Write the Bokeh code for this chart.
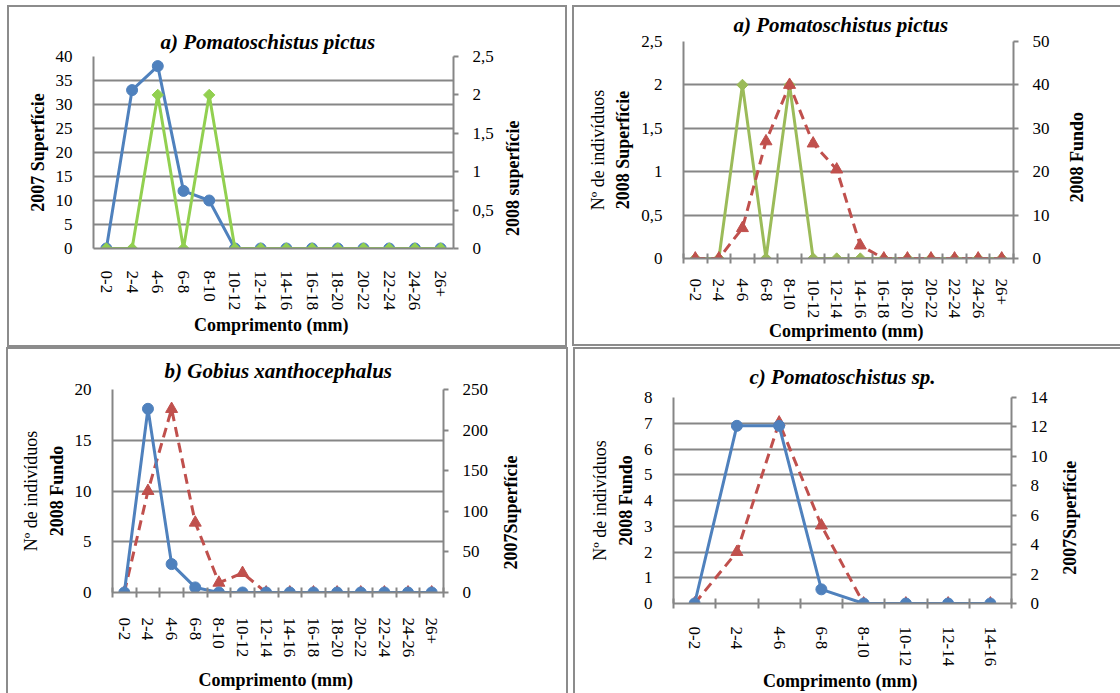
import math
import numpy as np
from bokeh.plotting import figure
from bokeh.models import (Range1d, LinearAxis, FixedTicker, CustomJSTickFormatter,
                          ColumnDataSource)
from bokeh.layouts import row, column
from bokeh.embed import file_html
from bokeh.resources import INLINE

FONT = "Liberation Serif"
GRID = "#868686"
FRAME = "#8c8c8c"
BLUE = "#4F81BD"
RED = "#C0504D"
GREEN1 = "#92D050"
GREEN2 = "#9BBB59"
TICK_FS = "17px"
LABEL_FS = "18px"
TITLE_FS = "21px"

# ---------------- data ----------------
cats14 = ["0-2", "2-4", "4-6", "6-8", "8-10", "10-12", "12-14", "14-16",
          "16-18", "18-20", "20-22", "22-24", "24-26", "26+"]
cats8 = ["0-2", "2-4", "4-6", "6-8", "8-10", "10-12", "12-14", "14-16"]

# Panel a) top-left
a1_sup2007 = [0, 33, 38, 12, 10, 0, 0, 0, 0, 0, 0, 0, 0, 0]
a1_sup2008 = [0, 0, 2, 0, 2, 0, 0, 0, 0, 0, 0, 0, 0, 0]
a1_left_ticks = [0, 5, 10, 15, 20, 25, 30, 35, 40]
a1_right_ticks = [0, 0.5, 1, 1.5, 2, 2.5]

# Panel a) top-right
a2_sup2008 = [0, 0, 2, 0, 2, 0, 0, 0, 0, 0, 0, 0, 0, 0]
a2_fundo2008 = [0, 0, 7, 27, 40, 26.5, 20.5, 3, 0, 0, 0, 0, 0, 0]
a2_left_ticks = [0, 0.5, 1, 1.5, 2, 2.5]
a2_right_ticks = [0, 10, 20, 30, 40, 50]

# Panel b) bottom-left
b_fundo2008 = [0, 18.1, 2.8, 0.5, 0, 0, 0, 0, 0, 0, 0, 0, 0, 0]
b_sup2007 = [0, 125, 226, 86, 12, 24, 0, 0, 0, 0, 0, 0, 0, 0]
b_left_ticks = [0, 5, 10, 15, 20]
b_right_ticks = [0, 50, 100, 150, 200, 250]

# Panel c) bottom-right
c_fundo2008 = [0, 6.9, 6.9, 0.55, 0, 0, 0, 0]
c_sup2007 = [0, 3.5, 12.3, 5.3, 0, 0, 0, 0]
c_left_ticks = [0, 1, 2, 3, 4, 5, 6, 7, 8]
c_right_ticks = [0, 2, 4, 6, 8, 10, 12, 14]

COMMA = "return tick.toString().replace('.', ',');"


def style_label(ax, text, bold=True):
    ax.axis_label = text
    ax.axis_label_text_font = FONT
    ax.axis_label_text_font_style = "bold" if bold else "normal"
    ax.axis_label_text_font_size = LABEL_FS
    ax.axis_label_text_color = "black"


def make_panel(title, cats, left_ticks, right_ticks, series, left_label, right_label,
               extra_label, W, H, fl, ft, fw, fh, margin, sides,
               right_title_center, right_title_len, right_title_standoff,
               xticks=True, title_offset=0, title_standoff=0,
               x_standoff=20, x_label_standoff=2):
    n = len(cats)
    ymin, ymax = left_ticks[0], left_ticks[-1]
    p = figure(width=W, height=H, x_range=Range1d(0, n),
               y_range=Range1d(ymin, ymax),
               output_backend="svg", toolbar_location=None,
               min_border_left=fl, min_border_right=W - fl - fw,
               min_border_top=ft, min_border_bottom=H - ft - fh)
    p.extra_y_ranges = {"r": Range1d(right_ticks[0], right_ticks[-1])}
    p.border_fill_alpha = 0
    p.background_fill_color = "white"
    p.outline_line_color = None
    shadows = {"left": "inset 2px 0 0 0 " + FRAME, "top": "inset 0 2px 0 0 " + FRAME,
               "right": "inset -2px 0 0 0 " + FRAME, "bottom": "inset 0 -2px 0 0 " + FRAME}
    p.styles = {"background-color": "white",
                "box-shadow": ", ".join(shadows[s] for s in sides)}
    p.margin = margin

    p.title.text = title
    p.title.align = "left"
    p.title.text_font = FONT
    p.title.text_font_style = "bold italic"
    p.title.text_font_size = TITLE_FS
    p.title.text_color = "black"
    p.title.offset = title_offset
    p.title.standoff = title_standoff

    # x axis
    xa = p.xaxis[0]
    xa.ticker = FixedTicker(ticks=list(np.arange(n) + 0.5),
                            minor_ticks=list(np.arange(n + 1)))
    xa.formatter = CustomJSTickFormatter(args=dict(cats=cats),
                                         code="return cats[Math.floor(tick)];")
    xa.major_label_orientation = -math.pi / 2
    xa.major_tick_in = 0
    xa.major_tick_out = 0
    xa.minor_tick_in = 5 if xticks else 0
    xa.minor_tick_out = 5 if xticks else 0
    xa.minor_tick_line_color = GRID
    xa.minor_tick_line_width = 2
    xa.axis_line_color = GRID
    xa.axis_line_width = 2
    xa.major_label_standoff = x_standoff
    xa.major_label_text_font = FONT
    xa.major_label_text_font_size = TICK_FS
    xa.major_label_text_color = "black"
    style_label(xa, "Comprimento  (mm)")
    xa.axis_label_standoff = x_label_standoff
    p.xgrid.visible = False

    # left axis
    ya = p.yaxis[0]
    lt = FixedTicker(ticks=left_ticks)
    ya.ticker = lt
    ya.formatter = CustomJSTickFormatter(code=COMMA)
    ya.major_tick_in = 0
    ya.major_tick_out = 0
    ya.minor_tick_in = 0
    ya.minor_tick_out = 0
    ya.axis_line_color = GRID
    ya.axis_line_width = 2
    ya.major_label_standoff = 21
    ya.major_label_text_font = FONT
    ya.major_label_text_font_size = TICK_FS
    ya.major_label_text_color = "black"
    style_label(ya, left_label)
    ya.axis_label_standoff = 5
    p.ygrid.ticker = lt
    p.ygrid.grid_line_color = GRID
    p.ygrid.grid_line_width = 2

    # right axis (ticks + numbers)
    ra = LinearAxis(y_range_name="r", ticker=FixedTicker(ticks=right_ticks),
                    formatter=CustomJSTickFormatter(code=COMMA))
    ra.major_tick_in = 0
    ra.major_tick_out = 5
    ra.major_tick_line_color = GRID
    ra.major_tick_line_width = 2
    ra.minor_tick_in = 0
    ra.minor_tick_out = 0
    ra.axis_line_color = GRID
    ra.axis_line_width = 2
    ra.major_label_standoff = 14
    ra.major_label_text_font = FONT
    ra.major_label_text_font_size = TICK_FS
    ra.major_label_text_color = "black"
    p.add_layout(ra, "right")

    # right-axis title, reading bottom-to-top: drawn as the single label of a
    # bare outer axis, starting at the bottom end of the title
    start_px = right_title_center + right_title_len / 2.0   # canvas y of text start
    y_start = ymin + (ymax - ymin) * (ft + fh - start_px) / fh
    ta = LinearAxis(ticker=FixedTicker(ticks=[y_start]),
                    formatter=CustomJSTickFormatter(args=dict(t=right_label),
                                                    code="return t;"))
    ta.axis_line_color = None
    ta.major_tick_out = 0
    ta.major_tick_in = 0
    ta.minor_tick_out = 0
    ta.minor_tick_in = 0
    ta.major_label_standoff = right_title_standoff
    ta.major_label_orientation = math.pi / 2
    ta.major_label_text_font = FONT
    ta.major_label_text_font_style = "bold"
    ta.major_label_text_font_size = LABEL_FS
    ta.major_label_text_color = "black"
    p.add_layout(ta, "right")

    if extra_label:
        ea = LinearAxis(ticker=FixedTicker(ticks=[]))
        ea.axis_line_color = None
        ea.major_tick_out = 0
        ea.major_tick_in = 0
        ea.minor_tick_out = 0
        ea.minor_tick_in = 0
        ea.major_label_standoff = 0
        style_label(ea, extra_label, bold=False)
        ea.axis_label_standoff = 3
        p.add_layout(ea, "left")

    x = np.arange(n) + 0.5
    for s in series:
        src = ColumnDataSource(dict(x=x, y=s["values"]))
        kw = {} if s["axis"] == "left" else {"y_range_name": "r"}
        p.line("x", "y", source=src, line_color=s["color"], line_width=3,
               line_dash=s.get("dash", "solid"), **kw)
        mk = s["marker"]
        if mk == "diamond":
            p.scatter("x", "y", source=src, marker="square", angle=math.pi / 4, size=8,
                      fill_color=s["color"], line_color=s["color"], **kw)
        elif mk == "triangle":
            p.scatter("x", "y", source=src, marker="triangle", size=12,
                      fill_color=s["color"], line_color=s["color"], **kw)
        else:
            p.scatter("x", "y", source=src, marker="circle", size=11,
                      fill_color=s["color"], line_color=s["color"], **kw)
    return p


p1 = make_panel("a) Pomatoschistus pictus", cats14, a1_left_ticks, a1_right_ticks,
                [dict(values=a1_sup2007, axis="left", color=BLUE, marker="circle"),
                 dict(values=a1_sup2008, axis="right", color=GREEN1, marker="diamond")],
                "2007 Superfície", "2008 superfície", None,
                W=560, H=342, fl=86, ft=51, fw=360, fh=192, margin=(5, 0, 0, 7),
                sides=["left", "top", "right", "bottom"],
                right_title_center=173, right_title_len=115, right_title_standoff=16,
                xticks=False, title_offset=67, title_standoff=6, x_standoff=22)

p2 = make_panel("a) Pomatoschistus pictus", cats14, a2_left_ticks, a2_right_ticks,
                [dict(values=a2_sup2008, axis="left", color=GREEN2, marker="diamond"),
                 dict(values=a2_fundo2008, axis="right", color=RED, marker="triangle",
                      dash="10 6")],
                "2008 Superfície", "2008 Fundo", "Nº de indivíduos",
                W=548, H=341, fl=111, ft=36, fw=330, fh=217, margin=(5, 0, 0, 5),
                sides=["left", "top", "bottom"],
                right_title_center=152, right_title_len=90, right_title_standoff=24,
                xticks=True, title_offset=50, title_standoff=9, x_standoff=15,
                x_label_standoff=0)

p3 = make_panel("b) Gobius xanthocephalus", cats14, b_left_ticks, b_right_ticks,
                [dict(values=b_sup2007, axis="right", color=RED, marker="triangle",
                      dash="10 6"),
                 dict(values=b_fundo2008, axis="left", color=BLUE, marker="circle")],
                "2008 Fundo", "2007Superfície", "Nº de indivíduos",
                W=562, H=346, fl=106, ft=42, fw=331, fh=204, margin=(0, 0, 0, 6),
                sides=["left", "top", "right"],
                right_title_center=166, right_title_len=114, right_title_standoff=20,
                xticks=True, title_offset=52, title_standoff=13, x_standoff=20,
                x_label_standoff=10)

p4 = make_panel("c) Pomatoschistus sp.", cats8, c_left_ticks, c_right_ticks,
                [dict(values=c_sup2007, axis="right", color=RED, marker="triangle",
                      dash="10 6"),
                 dict(values=c_fundo2008, axis="left", color=BLUE, marker="circle")],
                "2008 Fundo", "2007Superfície", "Nº de indivíduos",
                W=547, H=347, fl=100, ft=50, fw=338, fh=207, margin=(0, 0, 0, 5),
                sides=["left", "top"],
                right_title_center=171, right_title_len=114, right_title_standoff=20,
                xticks=True, title_offset=76, title_standoff=17, x_standoff=18)

layout = column(row(column(p1), column(p2)), row(column(p3), column(p4)))
open("out.html", "w").write(file_html(layout, INLINE))
